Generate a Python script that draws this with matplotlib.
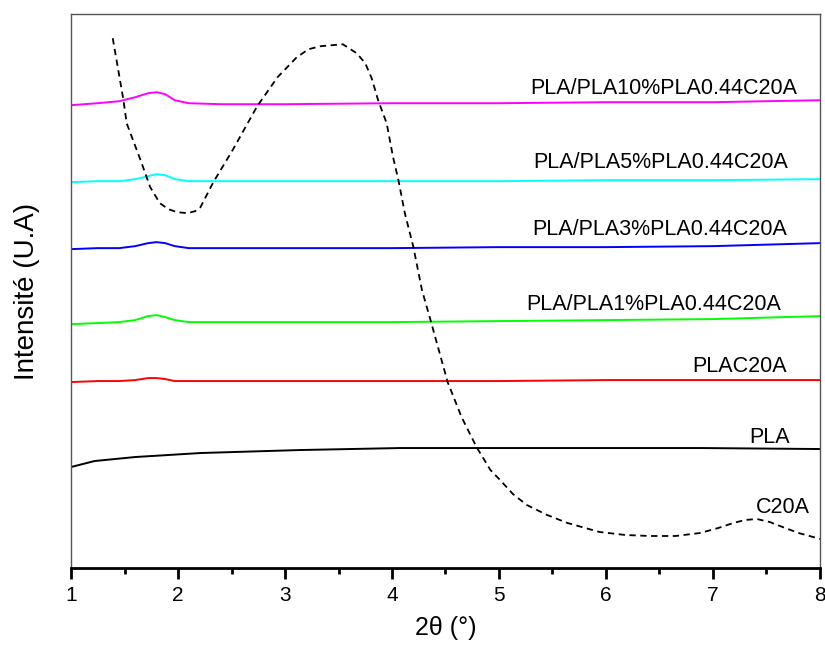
import numpy as np
import matplotlib
matplotlib.use("Agg")
import matplotlib.pyplot as plt

plt.rcParams['font.family'] = ['Liberation Sans', 'DejaVu Sans']

# 2theta positions (deg) and intensities (a.u.)
c20a_x = [1.39, 1.49, 1.52, 1.65, 1.74, 1.83, 1.91, 1.99, 2.09, 2.16, 2.21, 2.33, 2.51, 2.74,
          2.93, 3.11, 3.22, 3.33, 3.54, 3.67, 3.75, 3.81, 3.87, 3.95, 4.01, 4.06, 4.12,
          4.20, 4.28, 4.36, 4.52, 4.65, 4.79, 4.92, 5.01, 5.13, 5.26, 5.45, 5.64, 5.94,
          6.18, 6.41, 6.65, 6.88, 7.05, 7.19, 7.30, 7.41, 7.53, 7.65, 7.80, 7.97, 8.0]
c20a_y = [530, 468, 445, 408, 381, 365, 359, 356, 355, 357, 361, 386, 418, 462,
          491, 511, 519, 522, 524, 515, 505, 490, 468, 445, 411, 388, 355,
          321, 278, 248, 186, 151, 121, 98, 88, 74, 63, 53, 45, 36,
          33, 32, 32, 35, 40, 45, 48, 49, 46, 41, 35, 30, 29]

pla_x = [1.0, 1.22, 1.41, 1.60, 2.21, 3.14, 4.08, 5.01, 5.95, 6.88, 8.0]
pla_y = [101, 107, 109, 111, 115, 118, 120, 120, 120, 120, 119]

# composites: baseline with a small bump near 1.8 deg
comp_x = [1.0, 1.25, 1.45, 1.60, 1.72, 1.80, 1.88, 1.97, 2.10, 2.40, 3.0, 4.0, 5.0, 6.0, 7.0, 8.0]
plac20a_y = [186, 187, 187, 188, 190, 190, 189, 187, 187, 187, 187, 187, 187, 188, 188, 188]
pla1_y = [244, 245, 246, 248, 252, 253, 251, 248, 246, 246, 246, 246, 247, 248, 249, 252]
pla3_y = [319, 320, 320, 322, 325, 326, 325, 322, 320, 320, 320, 320, 321, 321, 322, 325]
pla5_y = [386, 387, 387, 389, 392, 394, 393, 389, 387, 387, 387, 387, 387, 388, 388, 389]
pla10_y = [463, 465, 467, 471, 475, 476, 474, 468, 465, 464, 464, 465, 465, 466, 466, 468]

labels = ['PLA/PLA10%PLA0.44C20A', 'PLA/PLA5%PLA0.44C20A', 'PLA/PLA3%PLA0.44C20A',
          'PLA/PLA1%PLA0.44C20A', 'PLAC20A', 'PLA', 'C20A']
label_x = [7.785, 7.70, 7.69, 7.64, 7.69, 7.72, 7.91]
label_y = [480, 406, 339, 264, 202, 131, 61]

fig = plt.figure(figsize=(8.25, 6.48), dpi=100)
ax = fig.add_axes([0.0861, 0.1235, 0.9078, 0.8545])

ax.plot(comp_x, pla10_y, color='#ff00ff', lw=1.4)
ax.plot(comp_x, pla5_y, color='#00ffff', lw=1.4)
ax.plot(comp_x, pla3_y, color='#0000ff', lw=1.4)
ax.plot(comp_x, pla1_y, color='#00ff00', lw=1.4)
ax.plot(comp_x, plac20a_y, color='#ff0000', lw=1.4)
ax.plot(pla_x, pla_y, color='black', lw=1.4)
ax.plot(c20a_x, c20a_y, color='black', lw=1.3, linestyle=(0, (3.5, 2.5)))

for lab, lx, ly in zip(labels, label_x, label_y):
    ax.text(lx, ly, lab, ha='right', va='center', fontsize=15.5)

ax.set_xlim(1, 8)
ax.set_ylim(0, 554)
ax.set_xticks(range(1, 9))
ax.set_xticks(np.arange(1.5, 8, 1.0), minor=True)
ax.set_yticks([])
ax.tick_params(axis='x', which='major', direction='out', length=8, width=2, labelsize=15, pad=5)
ax.tick_params(axis='x', which='minor', direction='out', length=4, width=2)

for side in ['top', 'left', 'right']:
    ax.spines[side].set_color('#555555')
    ax.spines[side].set_linewidth(1.0)
ax.spines['bottom'].set_linewidth(2.0)

ax.set_xlabel('2θ (°)', fontsize=18, labelpad=8)
ax.set_ylabel('Intensité (U.A)', fontsize=20, labelpad=22)

fig.savefig('out.png', dpi=100)
